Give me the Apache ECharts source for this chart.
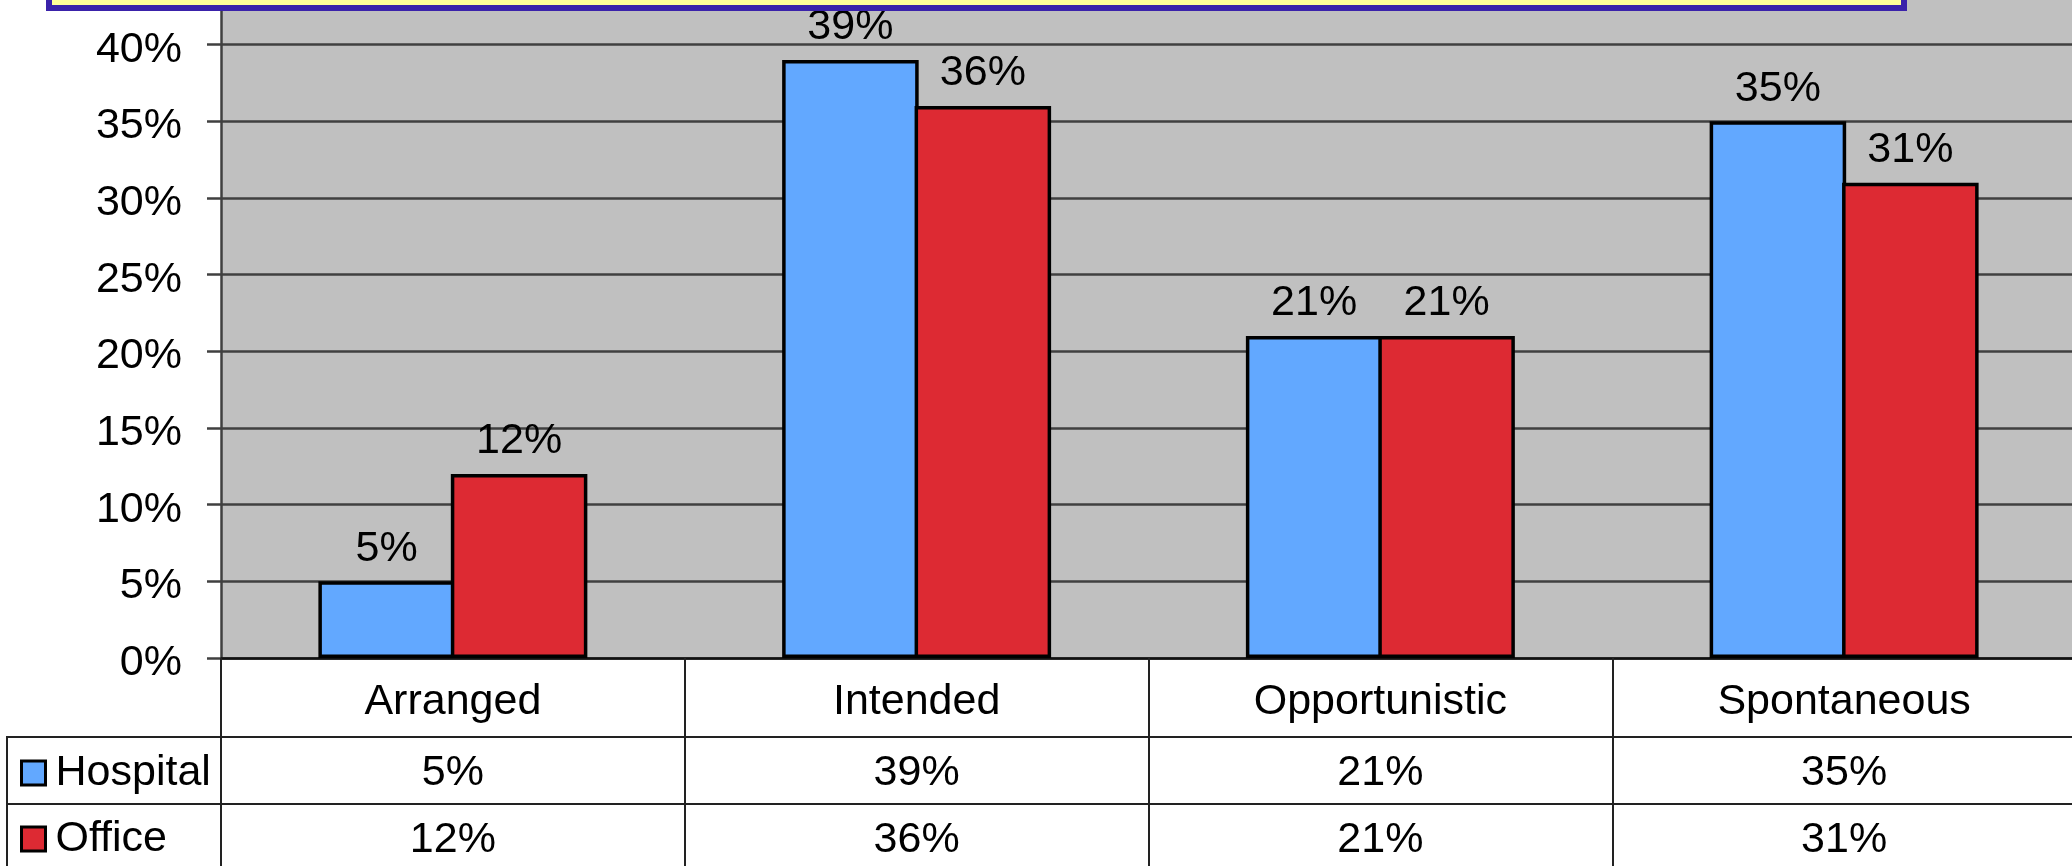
<!DOCTYPE html>
<html>
<head>
<meta charset="utf-8">
<script src="https://cdn.jsdelivr.net/npm/echarts@6/dist/echarts.min.js"></script>
<style>
html,body{margin:0;padding:0;background:#fff;}
#chart{width:2072px;height:866px;}
</style>
</head>
<body>
<div id="chart"></div>
<script>
const categories = ['Arranged', 'Intended', 'Opportunistic', 'Spontaneous'];
const seriesNames = ['Hospital', 'Office'];
const hospital = [5, 39, 21, 35];
const office = [12, 36, 21, 31];
const yTicks = { min: 0, max: 45, step: 5 };

const FONT = '"Liberation Sans", Arial, Helvetica, sans-serif';
const FS = 43;
const pct = v => v + '%';
const LINE = '#222';

const chart = echarts.init(document.getElementById('chart'), null, { renderer: 'canvas' });

function rowAxis(data, offset, margin, tickLen, lineShow) {
  return {
    type: 'category',
    gridIndex: 0,
    position: 'bottom',
    offset: offset,
    data: data,
    boundaryGap: true,
    axisLine: { show: lineShow, onZero: false, lineStyle: { color: LINE, width: 2 } },
    axisTick: { show: true, length: tickLen, alignWithLabel: false, lineStyle: { color: LINE, width: 2 } },
    axisLabel: {
      interval: 0, margin: margin, color: '#000', fontFamily: FONT, fontSize: FS,
      verticalAlign: 'middle', lineHeight: 44
    },
    splitLine: { show: false }
  };
}

const xAxes = [
  rowAxis(categories, 0, 44, 79, true),
  rowAxis(hospital.map(pct), 79, 36, 67, true),
  rowAxis(office.map(pct), 146, 36, 80, true)
];
xAxes[0].axisLine.lineStyle = { color: '#111', width: 2.5 };

const barStyle = (color) => ({ color: color, borderColor: '#000', borderWidth: 3.5 });
const labelStyle = {
  show: true, position: 'top', distance: 11, color: '#000',
  fontFamily: FONT, fontSize: FS, formatter: p => pct(p.value)
};

const option = {
  backgroundColor: '#fff',
  animation: false,
  grid: { left: 221, right: -4, top: -32, bottom: 208, show: true, backgroundColor: '#C0C0C0', borderWidth: 0,
          containLabel: false, outerBoundsMode: 'none' },
  legend: {
    orient: 'vertical', left: 20, top: 751, itemGap: 22, padding: 0,
    itemWidth: 24, itemHeight: 24, icon: 'rect',
    itemStyle: { borderColor: '#000', borderWidth: 3 },
    textStyle: { color: '#000', fontFamily: FONT, fontSize: FS, lineHeight: 44, padding: [0, 0, 0, 5] },
    data: seriesNames
  },
  xAxis: xAxes,
  yAxis: {
    type: 'value', min: yTicks.min, max: yTicks.max, interval: yTicks.step,
    axisLine: { show: true, lineStyle: { color: '#404040', width: 2.5 } },
    axisTick: { show: true, length: 14, lineStyle: { color: '#404040', width: 2.5 } },
    axisLabel: { margin: 39, color: '#000', fontFamily: FONT, fontSize: FS, formatter: v => pct(v),
                 verticalAlign: 'top', lineHeight: 44, padding: [-17, 0, 0, 0] },
    splitLine: { show: true, lineStyle: { color: '#404040', width: 2.5 } }
  },
  series: [
    { name: seriesNames[0], type: 'bar', data: hospital, xAxisIndex: 0, barGap: '-3%', barCategoryGap: '42%',
      itemStyle: barStyle('#62A8FF'), label: labelStyle },
    { name: seriesNames[1], type: 'bar', data: office, xAxisIndex: 0, barGap: '-3%', barCategoryGap: '42%',
      itemStyle: barStyle('#DD2A33'), label: labelStyle }
  ],
  graphic: [
    { type: 'rect', z: 100, shape: { x: 49, y: -100, width: 1855, height: 108 },
      style: { fill: '#FFFF99', stroke: '#3A22AA', lineWidth: 6 } },
    { type: 'line', z: 50, shape: { x1: 7, y1: 737, x2: 222, y2: 737 }, style: { stroke: LINE, lineWidth: 2 } },
    { type: 'line', z: 50, shape: { x1: 7, y1: 804, x2: 222, y2: 804 }, style: { stroke: LINE, lineWidth: 2 } },
    { type: 'line', z: 50, shape: { x1: 7, y1: 736, x2: 7, y2: 866 }, style: { stroke: LINE, lineWidth: 2 } }
  ]
};

chart.setOption(option);
</script>
</body>
</html>
